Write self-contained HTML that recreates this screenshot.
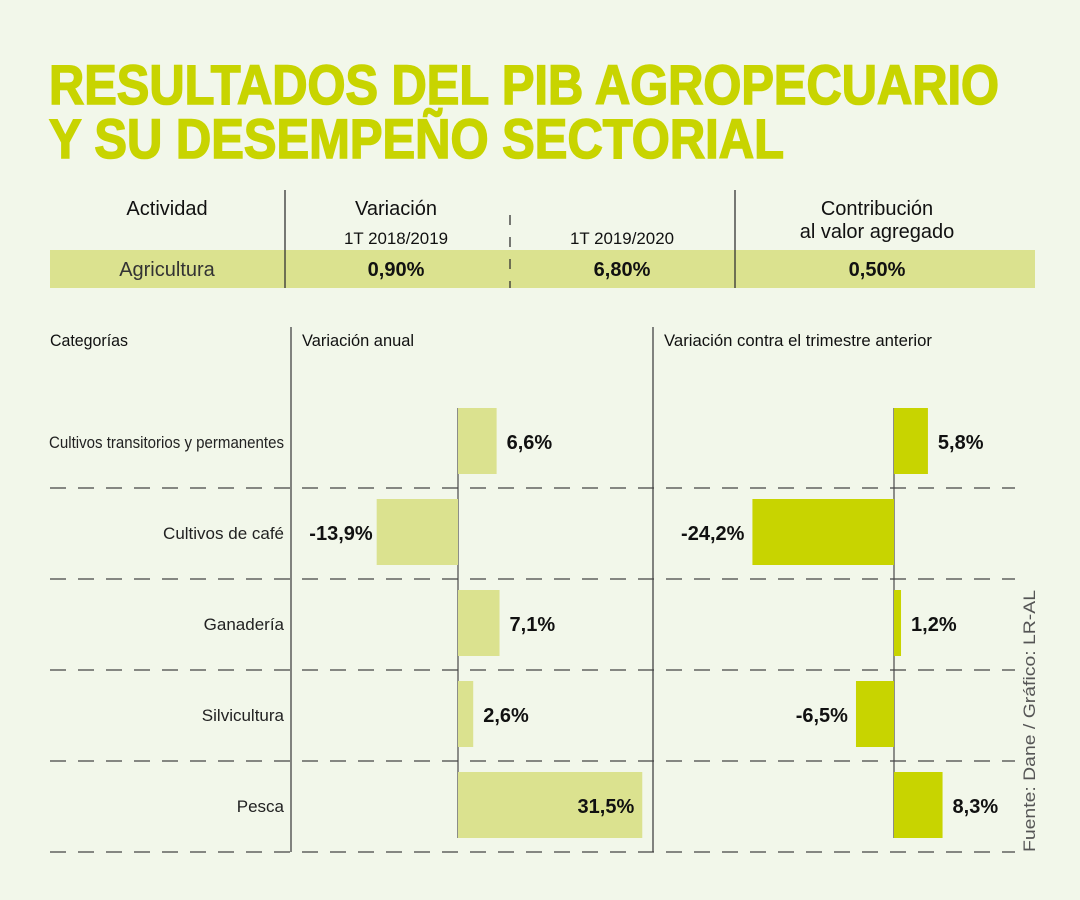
<!DOCTYPE html>
<html><head><meta charset="utf-8">
<style>
html,body{margin:0;padding:0;background:#f2f7ea;}
svg{display:block;font-family:"Liberation Sans",sans-serif;}
</style></head>
<body>
<svg id="chart" width="1080" height="900" viewBox="0 0 1080 900" xmlns="http://www.w3.org/2000/svg">
<rect x="0" y="0" width="1080" height="900" fill="#f2f7ea"/>
<g fill="#c8d400" stroke="#c8d400" stroke-width="1.6" font-weight="bold" font-size="56">
<text x="49" y="104" textLength="950" lengthAdjust="spacingAndGlyphs">RESULTADOS DEL PIB AGROPECUARIO</text>
<text x="49" y="158" textLength="735" lengthAdjust="spacingAndGlyphs">Y SU DESEMPEÑO SECTORIAL</text>
</g>
<g font-size="20" fill="#111">
<rect x="50" y="250" width="985" height="38" fill="#dbe28f"/>
<line x1="285" y1="190" x2="285" y2="288" stroke="#333" stroke-width="1.3"/>
<line x1="735" y1="190" x2="735" y2="288" stroke="#333" stroke-width="1.3"/>
<line x1="510" y1="215" x2="510" y2="288" stroke="#333" stroke-width="1.3" stroke-dasharray="10,12"/>
<text x="167" y="215" text-anchor="middle">Actividad</text>
<text x="396" y="215" text-anchor="middle">Variación</text>
<text x="396" y="244" text-anchor="middle" font-size="17" textLength="104" lengthAdjust="spacingAndGlyphs">1T 2018/2019</text>
<text x="622" y="244" text-anchor="middle" font-size="17" textLength="104" lengthAdjust="spacingAndGlyphs">1T 2019/2020</text>
<text x="877" y="215" text-anchor="middle">Contribución</text>
<text x="877" y="238" text-anchor="middle">al valor agregado</text>
<text x="167" y="276" text-anchor="middle" fill="#333">Agricultura</text>
<text x="396" y="276" text-anchor="middle" font-weight="bold">0,90%</text>
<text x="622" y="276" text-anchor="middle" font-weight="bold">6,80%</text>
<text x="877" y="276" text-anchor="middle" font-weight="bold">0,50%</text>
</g>
<g font-size="17" fill="#111">
<text x="50" y="346" textLength="78" lengthAdjust="spacingAndGlyphs">Categorías</text>
<text x="302" y="346" textLength="112" lengthAdjust="spacingAndGlyphs">Variación anual</text>
<text x="664" y="346" textLength="268" lengthAdjust="spacingAndGlyphs">Variación contra el trimestre anterior</text>
</g>
<line x1="291" y1="327" x2="291" y2="852" stroke="#444" stroke-width="1.3"/>
<line x1="653" y1="327" x2="653" y2="852" stroke="#444" stroke-width="1.3"/>
<g id="rows"></g>
<text transform="translate(1035,852) rotate(-90)" font-size="17" fill="#555" textLength="262" lengthAdjust="spacingAndGlyphs">Fuente: Dane / Gráfico: LR-AL</text>
</svg>
<script>
const categories = ["Cultivos transitorios y permanentes","Cultivos de café","Ganadería","Silvicultura","Pesca"];
const annualValues = [6.6,-13.9,7.1,2.6,31.5];
const quarterValues = [5.8,-24.2,1.2,-6.5,8.3];
const annualLabels = ["6,6%","-13,9%","7,1%","2,6%","31,5%"];
const quarterLabels = ["5,8%","-24,2%","1,2%","-6,5%","8,3%"];

const NS = "http://www.w3.org/2000/svg";
const g = document.getElementById("rows");
const scale = 5.85;
const xA = v => 458 + v*scale;
const xQ = v => 894 + v*scale;
const rowTop = i => 408 + i*91;
const barH = 66;
function mk(tag, attrs){const e=document.createElementNS(NS,tag);for(const k in attrs)e.setAttribute(k,attrs[k]);g.appendChild(e);return e;}

let ax = mk("line",{x1:458,y1:408,x2:458,y2:838,stroke:"#555","stroke-width":1.3});


ax = mk("line",{x1:894,y1:408,x2:894,y2:838,stroke:"#555","stroke-width":1.3});



categories.forEach((c,i)=>{
  const y = rowTop(i);
  const sep = mk("line",{x1:50,y1:y+80,x2:1015,y2:y+80,stroke:"#444","stroke-width":1.3,"stroke-dasharray":"16,12"});
  
  
  const lbl = mk("text",{x:284,y:y+40,"text-anchor":"end","font-size":17,fill:"#222"});
  lbl.textContent = c;
  if(i===0){lbl.setAttribute("textLength",235);lbl.setAttribute("lengthAdjust","spacingAndGlyphs");}
  
  
  const va = annualValues[i];
  const x0 = Math.min(xA(0),xA(va)), w = Math.abs(xA(va)-xA(0));
  const b = mk("rect",{x:x0,y:y,width:w,height:barH,fill:"#dbe28f"});
  
  
  let t;
  if(va>=0 && w>120){ t = mk("text",{x:xA(va)-8,y:y+41,"text-anchor":"end"}); }
  else if(va>=0){ t = mk("text",{x:xA(va)+10,y:y+41}); }
  else { t = mk("text",{x:xA(va)-4,y:y+41,"text-anchor":"end"}); }
  t.setAttribute("font-size",20);t.setAttribute("font-weight","bold");t.setAttribute("fill","#111");
  t.textContent = annualLabels[i];
  
  
  const vq = quarterValues[i];
  const q0 = Math.min(xQ(0),xQ(vq)), qw = Math.abs(xQ(vq)-xQ(0));
  const qb = mk("rect",{x:q0,y:y,width:qw,height:barH,fill:"#c8d400"});
  
  
  let qt;
  if(vq>=0){ qt = mk("text",{x:xQ(vq)+10,y:y+41}); }
  else { qt = mk("text",{x:xQ(vq)-8,y:y+41,"text-anchor":"end"}); }
  qt.setAttribute("font-size",20);qt.setAttribute("font-weight","bold");qt.setAttribute("fill","#111");
  qt.textContent = quarterLabels[i];
  
  
});
</script>
</body></html>
